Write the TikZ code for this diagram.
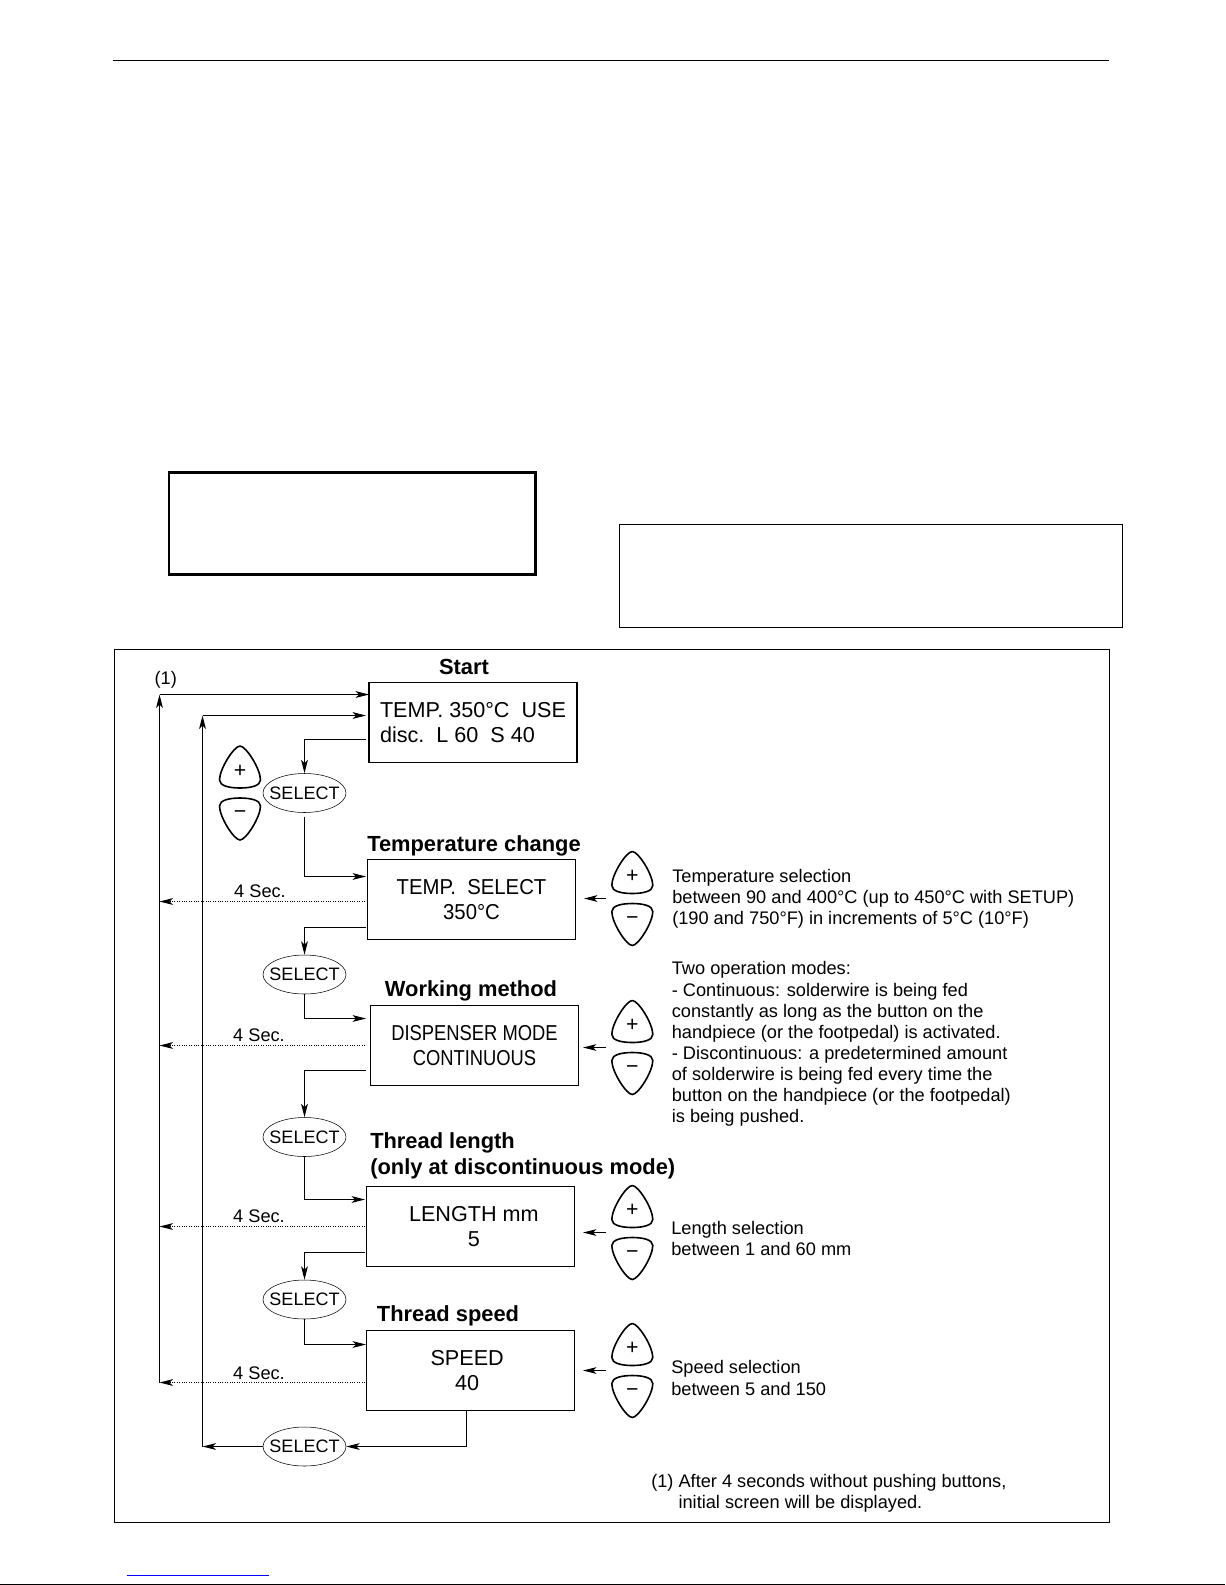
\documentclass[tikz,border=0pt]{standalone}
\usepackage{fontspec}
\setmainfont{Liberation Sans}
\newfontfamily\tempfont[FakeStretch=0.94]{Liberation Sans}
\newfontfamily\workfont[FakeStretch=0.85]{Liberation Sans}
\usepackage{tikz}
\usetikzlibrary{arrows.meta, positioning, shapes.geometric}

\tikzset{
    lcdbox/.style={draw, line width=0.8pt, minimum width=156pt, minimum height=60pt, align=center, font=\lcdfont},
    selectkey/.style={draw, ellipse, line width=0.4pt, inner xsep=-4.25pt, inner ysep=0pt, minimum height=29.25pt, font=\keyfont},
    heading/.style={font=\headfont, inner sep=0pt, align=left},
    note/.style={font=\notefont, inner sep=0pt, align=left, anchor=west},
    flow/.style={line width=0.8pt, -{Stealth[length=10pt, width=5pt, inset=2.5pt]}},
    thinflow/.style={line width=0.55pt, -{Stealth[length=10pt, width=5pt, inset=2.5pt]}},
    timeout/.style={line width=0.8pt, densely dotted, -{Stealth[length=10pt, width=5pt, inset=2.5pt]}},
    pmkeys/.pic={
        \draw[line width=1.2pt, line join=round] (0,-47) .. controls (-6,-47) and (-20.5,-24) .. (-20.5,-13) .. controls (-20.5,-7) and (-10,-5) .. (0,-5) .. controls (10,-5) and (20.5,-7) .. (20.5,-13) .. controls (20.5,-24) and (6,-47) .. (0,-47) -- cycle;
        \draw[line width=1.2pt, line join=round] (0,47) .. controls (-6,47) and (-20.5,24) .. (-20.5,13) .. controls (-20.5,7) and (-10,5) .. (0,5) .. controls (10,5) and (20.5,7) .. (20.5,13) .. controls (20.5,24) and (6,47) .. (0,47) -- cycle;
        \node[inner sep=0pt, font=\signfont] (-plus) at (0,-22) {+};
        \node[inner sep=0pt, font=\signfont] (-minus) at (0,22) {−};
        \coordinate (-w) at (-26,0);
    }
}
\newcommand{\lcdfont}{\fontsize{16.2}{19.2}\selectfont}
\newcommand{\keyfont}{\fontsize{13.5}{16}\selectfont}
\newcommand{\headfont}{\fontsize{16.4}{19.5}\selectfont\bfseries}
\newcommand{\notefont}{\fontsize{13.65}{15.8}\selectfont}
\newcommand{\signfont}{\fontsize{16}{16}\selectfont}

\begin{document}
\begin{tikzpicture}[x=0.75pt, y=-0.75pt]
    \useasboundingbox (0,0) rectangle (1225,1585);

    % page furniture
    \draw[line width=0.8pt] (113,60.5) -- (1109,60.5);
    \draw[line width=2.2pt] (169,472.5) rectangle (535.5,574.5);
    \draw[line width=0.75pt] (619.5,524.5) rectangle (1122.5,627.5);
    \draw[line width=0.8pt] (114.5,649.5) rectangle (1109.5,1522.5);
    \draw[blue, line width=0.75pt] (127,1575.5) -- (269,1575.5);
    \draw[line width=0.9pt] (0,1584.5) -- (1225,1584.5);

    % display boxes
    \node[lcdbox, align=left] (startbox) at (473,722.5) {TEMP. 350°C\ \ USE\\disc.\ \ L 60\ \ S 40};
    \node[lcdbox, font=\tempfont\lcdfont] (tempbox) at (471.5,899.5) {TEMP.\ \ SELECT\\350°C};
    \node[lcdbox, font=\workfont\lcdfont] (workbox) at (474.5,1045.5) {DISPENSER MODE\\CONTINUOUS};
    \node[lcdbox] (lenbox) at (470.5,1226.5) {\hspace*{5pt}LENGTH mm\\\hspace*{5pt}5};
    \node[lcdbox] (speedbox) at (470.5,1370.5) {SPEED\hspace*{5pt}\\40\hspace*{5pt}};

    % headings
    \node[heading] (starthead) at (464,667) {Start};
    \node[heading] (temphead) at (474,846) {Temperature change};
    \node[heading] (workhead) at (471,991) {Working method};
    \node[heading, anchor=west] (lenhead) at (370,1156) {Thread length\\(only at discontinuous mode)};
    \node[heading] (speedhead) at (448,1316) {Thread speed};

    % select keys
    \node[selectkey] (sel1) at (304.5,793) {SELECT};
    \node[selectkey] (sel2) at (304.5,974.5) {SELECT};
    \node[selectkey] (sel3) at (304.5,1137) {SELECT};
    \node[selectkey] (sel4) at (304.5,1299.5) {SELECT};
    \node[selectkey] (sel5) at (304.5,1446.5) {SELECT};

    % plus and minus keys
    \pic (keys1) at (240,793) {pmkeys};
    \pic (keys2) at (632.3,898.5) {pmkeys};
    \pic (keys3) at (632.3,1047.5) {pmkeys};
    \pic (keys4) at (632.3,1232.5) {pmkeys};
    \pic (keys5) at (632.3,1370.5) {pmkeys};

    % return rails
    \coordinate (railA) at (159.5,694.5);
    \coordinate (railB) at (202.5,715.5);
    \coordinate (railAend) at (159.5,1382.5);
    \coordinate (railBend) at (202.5,1446.5);
    \coordinate (startA) at (369,694.5);
    \coordinate (startB) at (366,715.5);
    \coordinate (startout) at (365.5,739.5);

    \draw[flow] (railAend) -- (railA);
    \draw[thinflow] (railA) -- (startA);
    \draw[flow] (railBend) -- (railB);
    \draw[thinflow] (railB) -- (startB);
    \draw[flow] (sel5.west) -- (railBend);

    % select sequence
    \coordinate (tempin) at (366,876.5);
    \coordinate (tempout) at (366,927.5);
    \coordinate (workin) at (366,1018.5);
    \coordinate (workout) at (366,1070.5);
    \coordinate (lenin) at (365,1199.5);
    \coordinate (lenout) at (365,1252.5);
    \coordinate (speedin) at (366,1344.5);
    \coordinate (speedout) at (466.5,1410.5);

    \draw[flow] (startout) -| (sel1.north);
    \draw[flow, shorten <=3pt] (sel1.south) |- (tempin);
    \draw[flow] (tempout) -| (sel2.north);
    \draw[flow] (sel2.south) |- (workin);
    \draw[flow] (workout) -| (sel3.north);
    \draw[flow] (sel3.south) |- (lenin);
    \draw[flow] (lenout) -| (sel4.north);
    \draw[flow] (sel4.south) |- (speedin);
    \draw[flow] (speedout) |- (sel5.east);

    % timeouts
    \coordinate (temp4s) at (365,901.5);
    \coordinate (work4s) at (365,1045.5);
    \coordinate (len4s) at (365,1226.5);
    \coordinate (speed4s) at (365,1382.5);

    \draw[timeout] (temp4s) -- (temp4s -| railA);
    \draw[timeout] (work4s) -- (work4s -| railA);
    \draw[timeout] (len4s) -- (len4s -| railA);
    \draw[timeout] (speed4s) -- (speed4s -| railA);

    \node[note, anchor=center] (sec1) at (260,891) {4 Sec.};
    \node[note, anchor=center] (sec2) at (259,1035) {4 Sec.};
    \node[note, anchor=center] (sec3) at (259,1216) {4 Sec.};
    \node[note, anchor=center] (sec4) at (259,1373) {4 Sec.};
    \node[note, anchor=center] (mark1) at (165.7,680) {(1)};

    % keys to displays
    \draw[flow, shorten >=6pt] (keys2-w) -- (keys2-w -| tempbox.east);
    \draw[flow, shorten >=3pt] (keys3-w) -- (keys3-w -| workbox.east);
    \draw[flow, shorten >=6pt] (keys4-w) -- (keys4-w -| lenbox.east);
    \draw[flow, shorten >=6pt] (keys5-w) -- (keys5-w -| speedbox.east);

    % notes
    \node[note] (tempnote) at (672,898.5) {Temperature selection\\between 90 and 400°C (up to 450°C with SETUP)\\(190 and 750°F) in increments of 5°C (10°F)};
    \node[note] (worknote) at (671.6,1044) {Two operation modes:\\- Continuous: solderwire is being fed\\constantly as long as the button on the\\handpiece (or the footpedal) is activated.\\- Discontinuous: a predetermined amount\\of solderwire is being fed every time the\\button on the handpiece (or the footpedal)\\is being pushed.};
    \node[note] (lennote) at (671,1238.5) {Length selection\\between 1 and 60 mm};
    \node[note] (speednote) at (671,1378) {Speed selection\\between 5 and 150};
    \node[note] (footnote) at (651,1493) {(1) After 4 seconds without pushing buttons,\\\phantom{(1) }initial screen will be displayed.};
\end{tikzpicture}
\end{document}
